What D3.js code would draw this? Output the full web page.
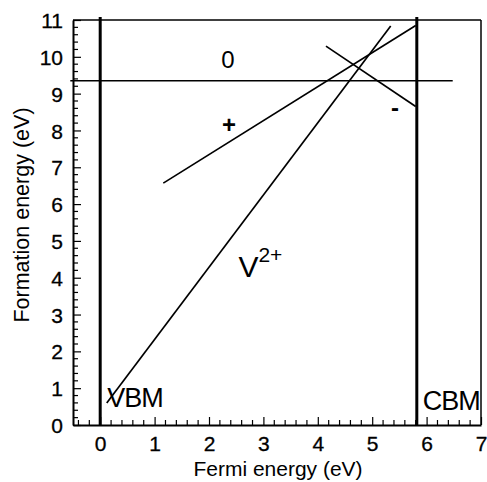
<!DOCTYPE html>
<html>
<head>
<meta charset="utf-8">
<script src="https://cdn.jsdelivr.net/npm/d3@7"></script>
<style>
    body { margin: 0; background: #fff; }
    svg text { font-family: "Liberation Sans", Arial, sans-serif; fill: #000; }
</style>
</head>
<body>
<svg id="chart" width="487" height="482"></svg>
<script>
// Data
const xTicks = [0, 1, 2, 3, 4, 5, 6, 7];
const yTicks = [0, 1, 2, 3, 4, 5, 6, 7, 8, 9, 10, 11];
const vbm = 0;
const cbm = 5.82;
// formation energy lines, end points [fermi, energy]
const neutralLine = [[-0.55, 9.35], [6.48, 9.35]];
const plusLine = [[1.16, 6.57], [5.80, 10.85]];
const minusLine = [[4.15, 10.29], [5.80, 8.65]];
const doublePlusLine = [[0.12, 0.60], [5.34, 10.84]];
const chargeLabels = ["0", "+", "-"];
const chargeLabelPos = [[2.35, 9.70], [2.37, 8.15], [5.42, 8.61]];

const svg = d3.select("#chart");
const plotLeft = 73, plotRight = 481, plotTop = 20, plotBottom = 425;

const x = d3.scaleLinear().domain([-0.5, 7]).range([plotLeft, plotRight]);
const y = d3.scaleLinear().domain([0, 11]).range([plotBottom, plotTop]);

// frame (top + right)
svg.append("line")
    .attr("x1", plotLeft).attr("y1", plotTop).attr("x2", plotRight).attr("y2", plotTop)
    .attr("stroke", "black").attr("stroke-width", 1.5);
svg.append("line")
    .attr("x1", plotRight).attr("y1", plotTop).attr("x2", plotRight).attr("y2", plotBottom)
    .attr("stroke", "black").attr("stroke-width", 1.5);

// minor ticks every 0.2
const xMinor = d3.range(-0.4, 7.0001, 0.2).filter(v => Math.abs(v - Math.round(v)) > 0.01);
const yMinor = d3.range(0.2, 11.0001, 0.2).filter(v => Math.abs(v - Math.round(v)) > 0.01);

const xAxis = svg.append("g")
    .attr("transform", `translate(0,${plotBottom})`)
    .call(d3.axisBottom(x).tickValues(xTicks).tickFormat(d3.format("d")).tickSizeInner(-8).tickSizeOuter(0).tickPadding(13));
xAxis.append("g").selectAll("line")
    .data(xMinor)
    .enter()
    .append("line")
    .attr("x1", d => x(d)).attr("x2", d => x(d))
    .attr("y1", 0).attr("y2", -5)
    .attr("stroke", "black").attr("stroke-width", 1.2);

const yAxis = svg.append("g")
    .attr("transform", `translate(${plotLeft},0)`)
    .call(d3.axisLeft(y).tickValues(yTicks).tickFormat(d3.format("d")).tickSizeInner(-8).tickSizeOuter(0).tickPadding(10));
yAxis.append("g").selectAll("line")
    .data(yMinor)
    .enter()
    .append("line")
    .attr("y1", d => y(d)).attr("y2", d => y(d))
    .attr("x1", 0).attr("x2", 5)
    .attr("stroke", "black").attr("stroke-width", 1.2);

svg.selectAll(".domain").attr("stroke-width", 2);
svg.selectAll(".tick line").attr("stroke-width", 1.2);
svg.selectAll(".tick text")
    .attr("font-size", 21)
    .attr("font-family", "Liberation Sans, Arial, sans-serif")
    .attr("stroke", "black").attr("stroke-width", 0.3);
yAxis.selectAll(".tick text").attr("dy", "0.36em");
xAxis.selectAll(".tick text").attr("dy", "0.6em");

// axis titles
svg.append("text")
    .attr("x", 278).attr("y", 476)
    .attr("text-anchor", "middle")
    .attr("font-size", 21)
    .text("Fermi energy (eV)");
svg.append("text")
    .attr("transform", "translate(29,215) rotate(-90)")
    .attr("text-anchor", "middle")
    .attr("font-size", 21.5)
    .text("Formation energy (eV)");

// band edges
[vbm, cbm].forEach(e => {
    svg.append("line")
        .attr("x1", x(e)).attr("x2", x(e))
        .attr("y1", y(11.08)).attr("y2", y(0))
        .attr("stroke", "black").attr("stroke-width", 3);
});

// formation energy lines
const line = d3.line().x(d => x(d[0])).y(d => y(d[1]));
[neutralLine, plusLine, minusLine, doublePlusLine].forEach(pts => {
    svg.append("path")
        .attr("d", line(pts))
        .attr("fill", "none")
        .attr("stroke", "black")
        .attr("stroke-width", 1.7);
});

// charge state labels
svg.selectAll(".charge")
    .data(chargeLabels)
    .enter()
    .append("text")
    .attr("class", "charge")
    .attr("x", (d, i) => x(chargeLabelPos[i][0]))
    .attr("y", (d, i) => y(chargeLabelPos[i][1]))
    .attr("text-anchor", "middle")
    .attr("dominant-baseline", (d, i) => i === 0 ? "auto" : "central")
    .attr("font-size", 24)
    .attr("font-weight", (d, i) => i === 0 ? "normal" : "bold")
    .text(d => d);

const v2 = svg.append("text")
    .attr("x", x(2.54)).attr("y", y(4.02))
    .attr("font-size", 30);
v2.append("tspan").text("V");
v2.append("tspan").attr("font-size", 21).attr("dy", -15).text("2+");

svg.append("text")
    .attr("x", x(0.13)).attr("y", y(0.49))
    .attr("font-size", 27)
    .attr("letter-spacing", -1)
    .text("VBM");
svg.append("text")
    .attr("x", x(5.93)).attr("y", y(0.41))
    .attr("font-size", 27)
    .attr("letter-spacing", -1)
    .text("CBM");
</script>
</body>
</html>
